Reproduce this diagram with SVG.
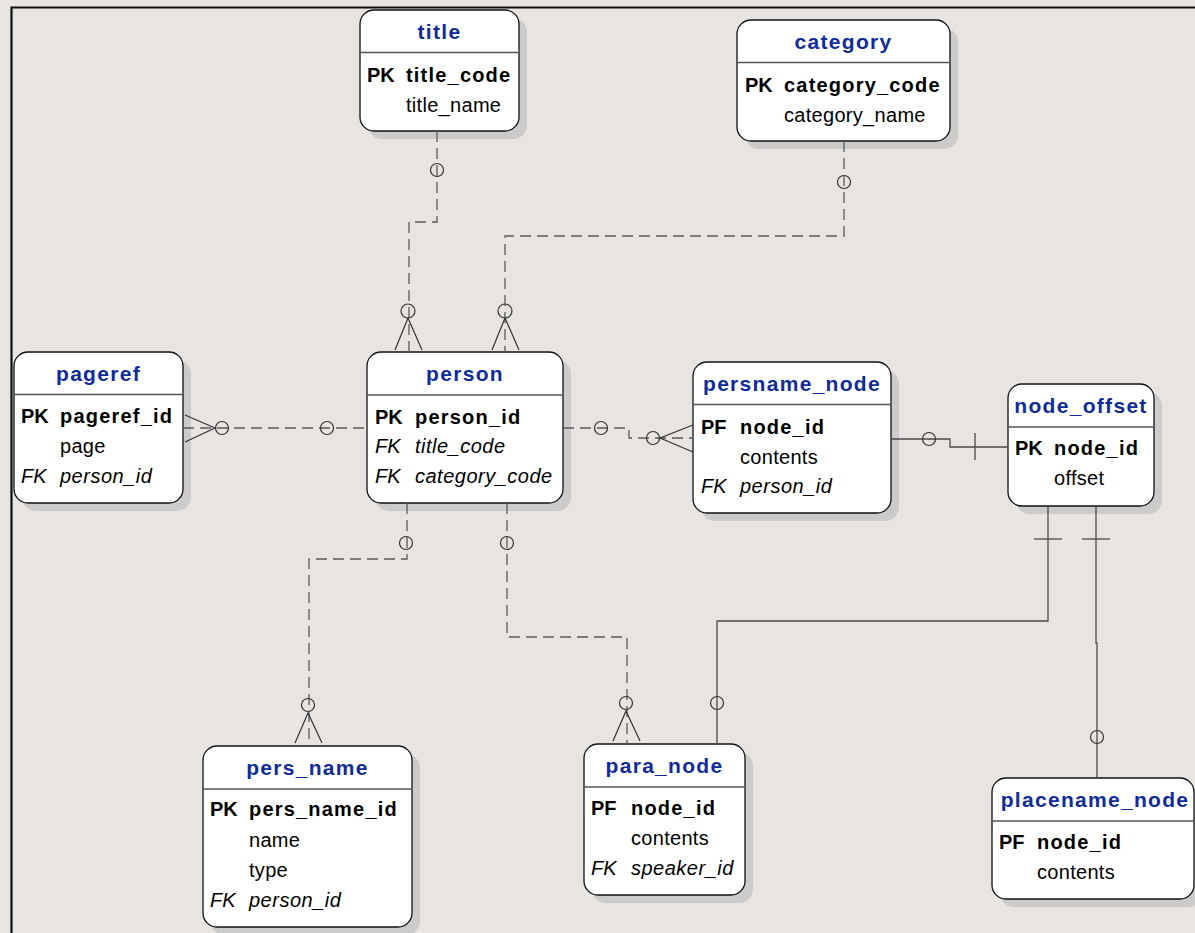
<svg xmlns="http://www.w3.org/2000/svg" width="1195" height="933" viewBox="0 0 1195 933">
<style>
.shadow{fill:#cdcbca}
.box{fill:#ffffff;stroke:#111;stroke-width:1.3}
.sep{stroke:#555;stroke-width:1.3}
text{font-family:"Liberation Sans",Arial,sans-serif;font-size:20px;fill:#000}
.hdr{font-weight:bold;font-size:21px;fill:#0f2b9c;text-anchor:middle;letter-spacing:1.3px}
.k{font-weight:bold}
.ki{font-style:italic}
.fb{font-weight:bold;letter-spacing:1.2px}
.f{letter-spacing:0.3px}
.fi{font-style:italic;letter-spacing:0.5px}
.dash{fill:none;stroke:#5a5a5a;stroke-width:1.3;stroke-dasharray:11 6}
.solid{fill:none;stroke:#4a4a4a;stroke-width:1.3}
.sym{fill:none;stroke:#333;stroke-width:1.2}
</style>
<rect x="0" y="0" width="1195" height="933" fill="#e8e4e1"/>
<path d="M11.5,940 V7.5 H1200" fill="none" stroke="#111" stroke-width="2.2"/>

<g id="title">
<rect class="shadow" x="368" y="18" width="159" height="121" rx="14"/>
<rect class="box" x="360" y="10" width="159" height="121" rx="14"/>
<line class="sep" x1="360" y1="52.5" x2="519" y2="52.5"/>
<text class="hdr" x="439.5" y="39">title</text>
<text class="k" x="367" y="82">PK</text><text class="fb" x="406" y="82">title_code</text>
<text class="f" x="406" y="111.5">title_name</text>
</g>

<g id="category">
<rect class="shadow" x="745" y="28" width="213" height="121" rx="14"/>
<rect class="box" x="737" y="20" width="213" height="121" rx="14"/>
<line class="sep" x1="737" y1="62.5" x2="950" y2="62.5"/>
<text class="hdr" x="843.5" y="49">category</text>
<text class="k" x="745" y="92">PK</text><text class="fb" x="784" y="92">category_code</text>
<text class="f" x="784" y="121.5">category_name</text>
</g>

<g id="pageref">
<rect class="shadow" x="22" y="360" width="169" height="151" rx="14"/>
<rect class="box" x="14" y="352" width="169" height="151" rx="14"/>
<line class="sep" x1="14" y1="394.5" x2="183" y2="394.5"/>
<text class="hdr" x="98.5" y="381">pageref</text>
<text class="k" x="21" y="423">PK</text><text class="fb" x="60" y="423">pageref_id</text>
<text class="f" x="60" y="453">page</text>
<text class="ki" x="21" y="483">FK</text><text class="fi" x="60" y="483">person_id</text>
</g>

<g id="person">
<rect class="shadow" x="375" y="360" width="196" height="151" rx="14"/>
<rect class="box" x="367" y="352" width="196" height="151" rx="14"/>
<line class="sep" x1="367" y1="395" x2="563" y2="395"/>
<text class="hdr" x="465" y="381">person</text>
<text class="k" x="375" y="424">PK</text><text class="fb" x="415" y="424">person_id</text>
<text class="ki" x="375" y="453">FK</text><text class="fi" x="415" y="453">title_code</text>
<text class="ki" x="375" y="482.5">FK</text><text class="fi" x="415" y="482.5">category_code</text>
</g>

<g id="persname_node">
<rect class="shadow" x="701" y="370" width="198" height="151" rx="14"/>
<rect class="box" x="693" y="362" width="198" height="151" rx="14"/>
<line class="sep" x1="693" y1="404.5" x2="891" y2="404.5"/>
<text class="hdr" x="792" y="391">persname_node</text>
<text class="k" x="701" y="434">PF</text><text class="fb" x="740" y="434">node_id</text>
<text class="f" x="740" y="463.5">contents</text>
<text class="ki" x="701" y="493">FK</text><text class="fi" x="740" y="493">person_id</text>
</g>

<g id="node_offset">
<rect class="shadow" x="1016" y="392" width="146" height="122" rx="14"/>
<rect class="box" x="1008" y="384" width="146" height="122" rx="14"/>
<line class="sep" x1="1008" y1="427" x2="1154" y2="427"/>
<text class="hdr" x="1081" y="413">node_offset</text>
<text class="k" x="1015" y="455">PK</text><text class="fb" x="1054" y="455">node_id</text>
<text class="f" x="1054" y="485">offset</text>
</g>

<g id="pers_name">
<rect class="shadow" x="211" y="754" width="209" height="181" rx="14"/>
<rect class="box" x="203" y="746" width="209" height="181" rx="14"/>
<line class="sep" x1="203" y1="789" x2="412" y2="789"/>
<text class="hdr" x="307.5" y="775">pers_name</text>
<text class="k" x="210" y="816">PK</text><text class="fb" x="249" y="816">pers_name_id</text>
<text class="f" x="249" y="847">name</text>
<text class="f" x="249" y="877">type</text>
<text class="ki" x="210" y="907">FK</text><text class="fi" x="249" y="907">person_id</text>
</g>

<g id="para_node">
<rect class="shadow" x="592" y="752" width="161" height="151" rx="14"/>
<rect class="box" x="584" y="744" width="161" height="151" rx="14"/>
<line class="sep" x1="584" y1="787" x2="745" y2="787"/>
<text class="hdr" x="664.5" y="773">para_node</text>
<text class="k" x="591" y="815">PF</text><text class="fb" x="631" y="815">node_id</text>
<text class="f" x="631" y="845">contents</text>
<text class="ki" x="591" y="875">FK</text><text class="fi" x="631" y="875">speaker_id</text>
</g>

<g id="placename_node">
<rect class="shadow" x="1000" y="786" width="202" height="121" rx="14"/>
<rect class="box" x="992" y="778" width="202" height="121" rx="14"/>
<line class="sep" x1="992" y1="821" x2="1194" y2="821"/>
<text class="hdr" x="1095" y="807">placename_node</text>
<text class="k" x="999" y="849">PF</text><text class="fb" x="1037" y="849">node_id</text>
<text class="f" x="1037" y="879">contents</text>
</g>

<g id="connectors">
<!-- title - person -->
<path class="dash" d="M437,131 V222 H409 V352"/>
<circle class="sym" cx="437" cy="170" r="6.5"/>
<circle class="sym" cx="408" cy="311" r="7"/>
<path class="sym" d="M395,350 L408,318 L422,350"/>
<!-- category - person -->
<path class="dash" d="M844,141 V236 H505 V352"/>
<circle class="sym" cx="844" cy="182" r="6.5"/>
<circle class="sym" cx="505" cy="311" r="7"/>
<path class="sym" d="M492,350 L505,318 L519,350"/>
<!-- pageref - person -->
<path class="dash" d="M183,428 H367"/>
<circle class="sym" cx="222" cy="428" r="6.5"/>
<circle class="sym" cx="327" cy="428" r="6.5"/>
<path class="sym" d="M185,415 L215,428 L185,442"/>
<!-- person - persname_node -->
<path class="dash" d="M563,428 H629 V438 H693"/>
<circle class="sym" cx="601" cy="428" r="6.5"/>
<circle class="sym" cx="653" cy="438" r="6.5"/>
<path class="sym" d="M693,425 L660,438 L693,452"/>
<!-- persname_node - node_offset -->
<path class="solid" d="M891,439 H950 V447 H1008"/>
<circle class="sym" cx="929" cy="439" r="6.5"/>
<path class="solid" d="M975,433 V460"/>
<!-- node_offset - para_node -->
<path class="solid" d="M1048,506 V621 H717 V744"/>
<path class="solid" d="M1034,539 H1062"/>
<circle class="sym" cx="717" cy="703" r="6.5"/>
<!-- node_offset - placename_node -->
<path class="solid" d="M1096,506 V643 H1097 V778"/>
<path class="solid" d="M1082,539 H1110"/>
<circle class="sym" cx="1097" cy="737" r="6.5"/>
<!-- person - pers_name -->
<path class="dash" d="M407,503 V559 H309 V746"/>
<circle class="sym" cx="406" cy="543" r="6.5"/>
<circle class="sym" cx="308" cy="705" r="6.5"/>
<path class="sym" d="M295,743 L308,713 L322,743"/>
<!-- person - para_node -->
<path class="dash" d="M507,503 V637 H627 V744"/>
<circle class="sym" cx="507" cy="543" r="6.5"/>
<circle class="sym" cx="626" cy="703" r="6.5"/>
<path class="sym" d="M613,741 L626,711 L640,741"/>
</g>
</svg>
